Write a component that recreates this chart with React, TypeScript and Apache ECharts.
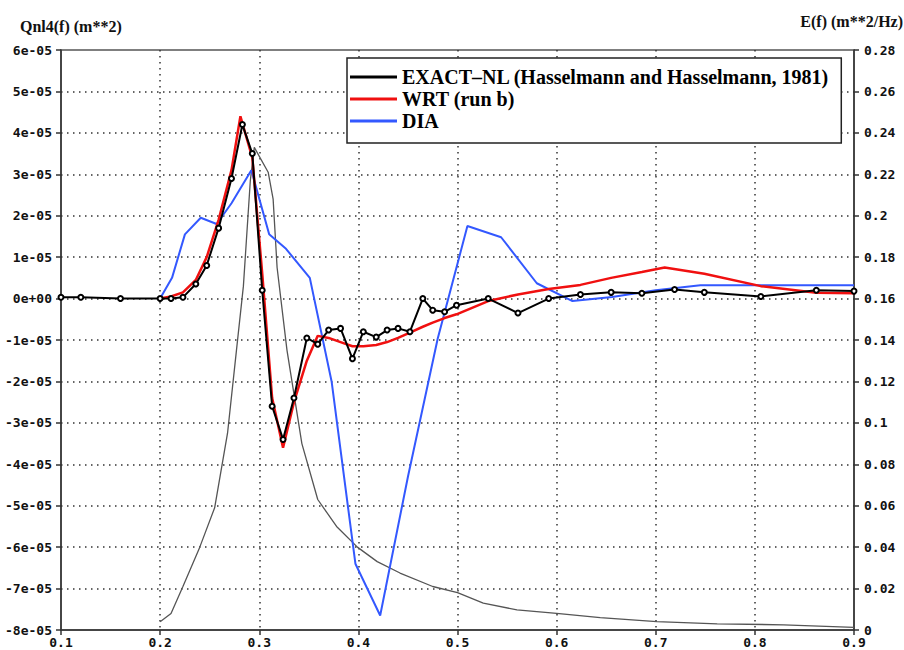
import React, { useEffect, useRef } from "react";
import * as echarts from "echarts";

// Frequencies (Hz) and Qnl4 values (in units of 1e-05 m**2)
const freqExact = [0.1, 0.12, 0.16, 0.2, 0.211, 0.223, 0.236, 0.247, 0.259, 0.272, 0.283, 0.293, 0.303, 0.313, 0.324, 0.335, 0.348, 0.359, 0.37, 0.382, 0.394, 0.405, 0.418, 0.429, 0.44, 0.452, 0.465, 0.475, 0.487, 0.499, 0.531, 0.561, 0.592, 0.624, 0.655, 0.686, 0.719, 0.749, 0.806, 0.862, 0.9];
const qExact = [0.03, 0.03, 0, 0, 0, 0.03, 0.35, 0.8, 1.7, 2.9, 4.2, 3.5, 0.2, -2.6, -3.4, -2.4, -0.95, -1.1, -0.76, -0.72, -1.45, -0.8, -0.93, -0.76, -0.72, -0.8, 0, -0.28, -0.32, -0.16, 0, -0.35, 0, 0.1, 0.15, 0.13, 0.22, 0.15, 0.05, 0.2, 0.18];

const freqWrt = [0.2, 0.211, 0.223, 0.236, 0.247, 0.259, 0.272, 0.281, 0.293, 0.303, 0.313, 0.324, 0.335, 0.348, 0.359, 0.37, 0.382, 0.394, 0.405, 0.418, 0.429, 0.44, 0.452, 0.465, 0.475, 0.487, 0.499, 0.531, 0.561, 0.592, 0.624, 0.655, 0.686, 0.709, 0.749, 0.806, 0.862, 0.9];
const qWrt = [0, 0.05, 0.15, 0.45, 1.0, 1.9, 3.1, 4.4, 3.4, 0.6, -2.4, -3.6, -2.5, -1.5, -0.9, -0.95, -1.05, -1.15, -1.15, -1.12, -1.05, -0.95, -0.82, -0.68, -0.58, -0.47, -0.38, -0.06, 0.1, 0.23, 0.33, 0.5, 0.64, 0.75, 0.6, 0.3, 0.14, 0.13];

const freqDia = [0.2, 0.212, 0.225, 0.241, 0.257, 0.272, 0.292, 0.31, 0.327, 0.351, 0.373, 0.397, 0.422, 0.45, 0.48, 0.51, 0.544, 0.58, 0.616, 0.656, 0.7, 0.745, 0.793, 0.845, 0.9];
const qDia = [0, 0.5, 1.55, 1.95, 1.8, 2.3, 3.1, 1.55, 1.2, 0.5, -2.0, -6.4, -7.65, -4.3, -0.97, 1.75, 1.48, 0.37, -0.06, 0.04, 0.2, 0.32, 0.32, 0.32, 0.32];

// Energy spectrum E(f) (m**2/Hz), right axis
const freqE = [0.2, 0.211, 0.223, 0.24, 0.255, 0.268, 0.277, 0.284, 0.291, 0.295, 0.309, 0.314, 0.318, 0.328, 0.334, 0.343, 0.359, 0.378, 0.399, 0.419, 0.442, 0.475, 0.5, 0.526, 0.56, 0.6, 0.644, 0.701, 0.762, 0.829, 0.9];
const energy = [0.004, 0.008, 0.021, 0.04, 0.059, 0.095, 0.135, 0.166, 0.217, 0.233, 0.221, 0.208, 0.175, 0.135, 0.117, 0.09, 0.063, 0.05, 0.04, 0.033, 0.0275, 0.021, 0.018, 0.013, 0.0097, 0.008, 0.006, 0.004, 0.003, 0.0025, 0.0013];

const seriesNames = ["EXACT\u2013NL (Hasselmann and Hasselmann, 1981)", "WRT (run b)", "DIA"];
const leftTitle = "Qnl4(f) (m**2)";
const rightTitle = "E(f) (m**2/Hz)";

const pair = (xs: number[], ys: number[]) => xs.map((x, i) => [x, ys[i]]);

const tickFont = { fontFamily: "DejaVu Sans Mono", fontWeight: "bold" as const, fontSize: 13, color: "#111" };
const dotted = { type: [1.5, 4.5] as number[], color: "#333", width: 1.5 };

export default function App() {
  const ref = useRef<HTMLDivElement>(null);
  useEffect(() => {
    const chart = echarts.init(ref.current!, null, { renderer: "svg" });
    chart.setOption({
      animation: false,
      backgroundColor: "#fff",
      grid: { left: 61, right: 50, top: 50, bottom: 20, show: true, borderColor: "#555", borderWidth: 1.5, backgroundColor: "transparent" },
      legend: {
        orient: "vertical",
        left: 347,
        top: 58,
        data: seriesNames,
        icon: "rect",
        itemWidth: 47,
        itemHeight: 3,
        itemGap: 2,
        selectedMode: false,
        padding: [9, 12, 12, 3],
        backgroundColor: "#fff",
        borderColor: "#222",
        borderWidth: 1.5,
        textStyle: { fontFamily: "Liberation Serif", fontWeight: "bold", fontSize: 20, lineHeight: 20, color: "#000" },
      },
      xAxis: {
        type: "value",
        min: 0.1,
        max: 0.9,
        interval: 0.1,
        axisLine: { show: true, onZero: false, lineStyle: { color: "#333", width: 1.5 } },
        axisTick: { show: true, length: 5, lineStyle: { color: "#333", width: 1.5 } },
        axisLabel: { ...tickFont, margin: 6, formatter: (v: number) => v.toFixed(1) },
        splitLine: { show: true, showMinLine: false, showMaxLine: false, lineStyle: dotted },
      },
      yAxis: [
        {
          type: "value",
          min: -8,
          max: 6,
          interval: 1,
          position: "left",
          axisLine: { show: true, onZero: false, lineStyle: { color: "#333", width: 1.5 } },
          axisTick: { show: true, length: 5, lineStyle: { color: "#333", width: 1.5 } },
          axisLabel: {
            ...tickFont,
            margin: 9,
            formatter: (v: number) => {
              const r = Math.round(v);
              return r === 0 ? "0e+00" : `${r}e-05`;
            },
          },
          splitLine: { show: true, showMinLine: false, showMaxLine: false, lineStyle: dotted },
        },
        {
          type: "value",
          min: 0,
          max: 0.28,
          interval: 0.02,
          position: "right",
          axisLine: { show: true, onZero: false, lineStyle: { color: "#333", width: 1.5 } },
          axisTick: { show: true, length: 5, lineStyle: { color: "#333", width: 1.5 } },
          axisLabel: { ...tickFont, margin: 10, formatter: (v: number) => String(+v.toFixed(2)) },
          splitLine: { show: false },
        },
      ],
      graphic: [
        { type: "text", left: 20, top: 18, style: { text: leftTitle, fontFamily: "Liberation Serif", fontWeight: "bold", fontSize: 16, fill: "#111" } },
        { type: "text", right: 1, top: 13, style: { text: rightTitle, fontFamily: "Liberation Serif", fontWeight: "bold", fontSize: 16, fill: "#111" } },
      ],
      series: [
        {
          name: "E(f)",
          type: "line",
          yAxisIndex: 1,
          data: pair(freqE, energy),
          showSymbol: false,
          symbol: "none",
          lineStyle: { color: "#555", width: 1.3 },
          itemStyle: { color: "#555" },
          z: 1,
        },
        {
          name: seriesNames[2],
          type: "line",
          data: pair(freqDia, qDia),
          symbol: "none",
          lineStyle: { color: "#3358ff", width: 2 },
          itemStyle: { color: "#3358ff" },
          z: 2,
        },
        {
          name: seriesNames[1],
          type: "line",
          data: pair(freqWrt, qWrt),
          symbol: "none",
          lineStyle: { color: "#f01010", width: 2.5 },
          itemStyle: { color: "#f01010" },
          z: 3,
        },
        {
          name: seriesNames[0],
          type: "line",
          data: pair(freqExact, qExact),
          symbol: "emptyCircle",
          symbolSize: 5,
          lineStyle: { color: "#000", width: 2 },
          itemStyle: { color: "#000", borderWidth: 1.2 },
          z: 4,
        },
      ],
    });
    return () => chart.dispose();
  }, []);
  return <div ref={ref} style={{ position: "absolute", left: 0, top: 0, width: 904, height: 650, background: "#fff" }} />;
}
